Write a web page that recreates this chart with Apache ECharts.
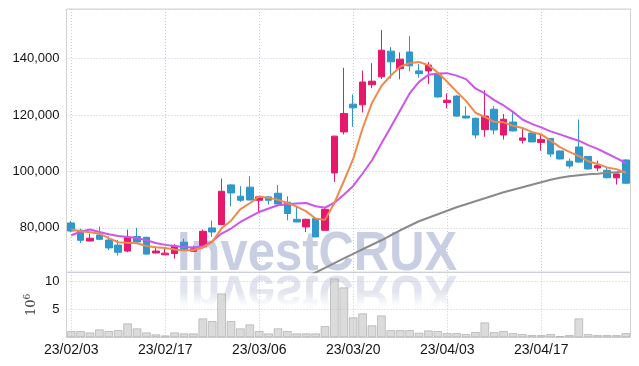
<!DOCTYPE html>
<html><head><meta charset="utf-8">
<script src="https://cdn.jsdelivr.net/npm/echarts@6/dist/echarts.min.js"></script>
<style>html,body{margin:0;padding:0;background:#fff}#c{width:639px;height:366px}</style>
</head><body><div id="c"></div>
<script>
const dates = ['23/02/03','23/02/06','23/02/07','23/02/08','23/02/09','23/02/10','23/02/13','23/02/14','23/02/15','23/02/16',
'23/02/17','23/02/20','23/02/21','23/02/22','23/02/23','23/02/24','23/02/27','23/02/28','23/03/02','23/03/03',
'23/03/06','23/03/07','23/03/08','23/03/09','23/03/10','23/03/13','23/03/14','23/03/15','23/03/16','23/03/17',
'23/03/20','23/03/21','23/03/22','23/03/23','23/03/24','23/03/27','23/03/28','23/03/29','23/03/30','23/03/31',
'23/04/03','23/04/04','23/04/05','23/04/06','23/04/07','23/04/10','23/04/11','23/04/12','23/04/13','23/04/14',
'23/04/17','23/04/18','23/04/19','23/04/20','23/04/21','23/04/24','23/04/25','23/04/26','23/04/27','23/04/28'];

const openP = [81700,79100,75300,77450,75650,73850,71750,76900,76600,71050,
70400,70850,74900,71650,73200,79950,81150,95200,91200,94400,
89750,90950,92250,89050,83000,80300,83250,79100,99450,114000,
123850,123600,130750,133550,142650,136450,142350,135650,135650,134400,
124400,126700,119600,118850,114800,122050,112900,117500,111050,113600,
110250,111700,107250,103600,108650,105300,101200,100400,97700,104050];
const closeP = [78850,75550,76300,75900,72850,71300,76700,74950,70650,71750,
71000,73500,72250,72550,78750,78500,92950,92350,89750,89850,
90950,89750,88450,85050,82050,83000,76750,86550,112500,120550,
122550,131700,132000,143000,138850,139800,137450,134650,137700,126400,
125250,119600,118950,112900,119600,114700,118500,114350,111850,110450,
111350,106150,104400,101900,103300,100850,102100,97750,99100,95800];
const lowP = [78400,74600,75200,75700,72100,70150,71300,74500,70500,70950,
70400,69050,71750,71550,72600,76750,80900,87650,89150,89750,
85850,88250,88350,82650,81950,78500,76650,78950,96250,113100,
115850,120900,129500,132800,132900,132650,135450,133300,130950,126200,
122400,119400,118700,111700,112300,113100,111300,114150,109900,110350,
107350,105150,104250,101000,103100,100650,100150,97550,95350,95550];
const highP = [82400,79700,77900,80400,77000,75700,79350,80000,76800,73200,
72800,74150,76100,73700,79350,82550,97450,95450,94750,98300,
91200,91150,95200,91200,87400,83200,83350,87400,112650,136750,
127300,135750,138400,150100,144100,142200,148000,138050,138750,134950,
127650,127050,123050,119050,128800,123150,120350,121450,115400,113700,
113000,111800,107350,104550,118400,105400,103800,101600,99200,104300];

const ma5 = [79400,78760,78400,77940,76300,74850,74700,74500,73500,73100,
72800,72300,71900,72100,73000,74900,79800,82500,86600,88700,
91100,90600,89900,88800,87500,85800,83300,82800,88800,96500,
104400,115300,124300,130300,134000,137100,138400,138800,137700,135100,
131800,128300,125000,120800,119300,117600,117400,116200,115400,114000,
113100,110900,108600,106900,105400,103600,102600,101400,100800,99500];
const ma20 = [77340,78580,79400,78510,77690,77050,76730,76340,75560,74600,
73930,73570,73180,72970,73330,75200,77940,79720,82060,83830,
85610,86820,87990,88340,88590,88800,87630,87100,88880,91720,
94840,99240,103960,109890,115780,121710,127640,131760,134240,134740,
134850,133960,132720,129420,127640,125260,123380,121110,118410,116850,
115610,114190,113120,111950,110890,109290,107970,106340,104670,102970];
const ma60 = [null,null,null,null,null,null,null,null,null,null,
null,null,null,null,null,null,null,null,null,null,
null,null,null,null,null,62400,64130,65800,67470,69170,
70770,72370,73970,75560,77340,79110,80710,82310,83550,84790,
86040,87280,88340,89410,90470,91540,92600,93490,94380,95270,
96150,97040,97750,98280,98640,98990,99170,99530,99700,100060];
const volumeM = [1.12,1.12,0.88,1.42,1.12,1.29,2.48,1.6,0.88,0.53,
0.35,0.88,0.71,0.71,3.37,2.89,7.8,2.89,1.6,2.3,
1.12,0.71,1.6,1.12,0.71,0.71,0.71,2.0,10.46,8.87,
3.55,4.26,2.13,3.9,1.29,1.29,1.29,0.82,1.24,1.12,
0.76,0.76,0.59,0.94,2.66,0.94,1.12,0.76,0.59,0.41,
0.41,0.59,0.23,0.41,3.37,0.59,0.41,0.41,0.41,0.76];

const watermarkText = 'InvestCRUX';

const candles = dates.map((d, i) => [openP[i], closeP[i], lowP[i], highP[i]]);

const LBL = '"Liberation Sans", Arial, sans-serif';
const gridLine = {show: true, lineStyle: {color: '#c6cadc', width: 1, type: [1, 2]}};

const chart = echarts.init(document.getElementById('c'), null, {renderer: 'canvas'});
const option = {
  animation: false,
  backgroundColor: '#ffffff',
  grid: [
    {left: 66.5, width: 564, top: 9, height: 263.3, show: true, borderColor: '#d2d2d2', borderWidth: 1, z: 2},
    {left: 66.5, width: 564, top: 272.3, height: 65, show: true, borderColor: '#d2d2d2', borderWidth: 1, z: 2}
  ],
  xAxis: [
    {gridIndex: 0, type: 'category', data: dates, boundaryGap: true, z: 2,
     axisLine: {show: false}, axisTick: {show: false}, axisLabel: {show: false},
     splitLine: Object.assign({interval: 9, alignWithLabel: true}, gridLine)},
    {gridIndex: 1, type: 'category', data: dates, boundaryGap: true, z: 2,
     axisLine: {show: false}, axisTick: {show: false},
     axisLabel: {show: true, interval: 9, fontFamily: LBL, fontSize: 14, color: '#151515', margin: 6},
     splitLine: Object.assign({interval: 9, alignWithLabel: true}, gridLine)}
  ],
  yAxis: [
    {gridIndex: 0, type: 'value', min: 64200, max: 157600, scale: true, z: 2,
     axisLine: {show: false}, axisTick: {show: false},
     axisLabel: {showMinLabel: false, showMaxLabel: false, fontFamily: LBL, fontSize: 13, color: '#151515', margin: 7,
       formatter: v => v.toLocaleString('en-US')},
     splitLine: gridLine},
    {gridIndex: 1, type: 'value', min: 0, max: 11.54, interval: 5, z: 2,
     axisLine: {show: false}, axisTick: {show: false},
     axisLabel: {showMinLabel: false, showMaxLabel: false, fontFamily: LBL, fontSize: 13, color: '#151515', margin: 7},
     splitLine: gridLine,
     name: '10{s|6}', nameLocation: 'middle', nameRotate: 90, nameGap: 27, nameMoveOverlap: false,
     nameTextStyle: {fontFamily: '"DejaVu Serif", serif', fontSize: 13, color: '#444',
       rich: {s: {fontFamily: '"DejaVu Serif", serif', fontSize: 9, color: '#444', padding: [0, 0, 7, 0]}}}}
  ],
  graphic: [
    {type: 'text', z: 1, x: 177, y: 282, scaleX: 0.89,
     style: {text: watermarkText, font: 'bold 55px "Liberation Sans"', fill: '#c9cfe3', textVerticalAlign: 'bottom'}},
    {type: 'text', z: 1, x: 177, y: 264, scaleX: 0.89, scaleY: -1,
     style: {text: watermarkText, font: 'bold 55px "Liberation Sans"', fill: '#e1e4ee', textVerticalAlign: 'bottom'}},
    {type: 'rect', z: 1, shape: {x: 170, y: 291, width: 300, height: 45},
     style: {fill: new echarts.graphic.LinearGradient(0, 0, 0, 1, [
       {offset: 0, color: 'rgba(255,255,255,0)'},
       {offset: 0.3, color: 'rgba(255,255,255,0.85)'},
       {offset: 0.45, color: 'rgba(255,255,255,1)'},
       {offset: 1, color: 'rgba(255,255,255,1)'}])}}
  ],
  series: [
    {type: 'candlestick', xAxisIndex: 0, yAxisIndex: 0, data: candles, barWidth: 7, z: 3,
     itemStyle: {color: '#e5186c', color0: '#2f97c9', borderColor: '#e5186c', borderColor0: '#2f97c9', borderWidth: 1}},
    {type: 'line', xAxisIndex: 0, yAxisIndex: 0, data: ma60, showSymbol: false, z: 4,
     lineStyle: {color: '#8a8a8a', width: 2}},
    {type: 'line', xAxisIndex: 0, yAxisIndex: 0, data: ma20, showSymbol: false, z: 4,
     lineStyle: {color: '#cc55ec', width: 2}},
    {type: 'line', xAxisIndex: 0, yAxisIndex: 0, data: ma5, showSymbol: false, z: 5,
     lineStyle: {color: '#f08a4c', width: 2}},
    {type: 'bar', xAxisIndex: 1, yAxisIndex: 1, data: volumeM, barCategoryGap: '6%', z: 3,
     itemStyle: {color: 'rgba(195,195,195,0.6)', borderColor: 'rgba(165,165,165,0.6)', borderWidth: 1}}
  ]
};
chart.setOption(option);
</script></body></html>
